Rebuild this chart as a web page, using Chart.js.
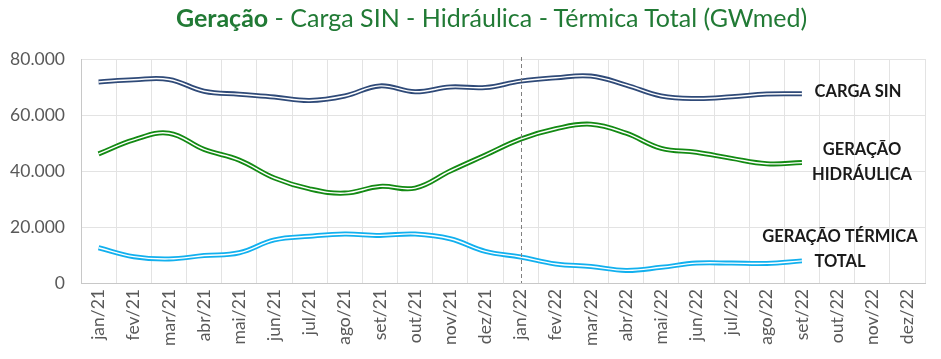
<!DOCTYPE html>
<html>
<head>
<meta charset="utf-8">
<script src="https://cdn.jsdelivr.net/npm/chart.js@4/dist/chart.umd.min.js"></script>
<style>
  html, body { margin: 0; padding: 0; background: #fff; }
  #wrap { position: relative; width: 941px; height: 359px; }
  #title { position: absolute; left: 21px; top: 2px; width: 941px; text-align: center;
           font-family: Lato, "Open Sans", sans-serif; font-size: 25px; color: #217a35; }
  #title b { font-weight: 700; }
  canvas { position: absolute; left: 0; top: 0; }
</style>
</head>
<body>
<div id="wrap">
  <canvas id="c" width="941" height="359"></canvas>
  <div id="title"><b>Geração</b> - Carga SIN - Hidráulica - Térmica Total (GWmed)</div>
</div>
<script>
const months = ["jan/21","fev/21","mar/21","abr/21","mai/21","jun/21","jul/21","ago/21","set/21","out/21","nov/21","dez/21",
                "jan/22","fev/22","mar/22","abr/22","mai/22","jun/22","jul/22","ago/22","set/22","out/22","nov/22","dez/22"];
const cargaSIN = [71800, 72600, 72700, 68500, 67400, 66400, 65200, 66800, 70400, 68300, 70000, 69800,
                  72100, 73300, 73900, 70700, 66800, 65900, 66500, 67500, 67600, null, null, null];
const geracaoHidraulica = [46100, 51100, 53500, 47700, 43900, 37500, 33600, 32100, 34500, 33900, 40000, 45700,
                           51400, 55100, 56700, 53500, 48100, 46700, 44500, 42600, 43000, null, null, null];
const geracaoTermica = [12600, 9400, 8600, 9800, 10800, 15400, 16700, 17500, 17000, 17500, 15800, 11300,
                        9300, 6800, 5900, 4500, 5600, 7100, 7100, 7000, 7900, null, null, null];
const seriesLabels = [["CARGA SIN"], ["GERAÇÃO", "HIDRÁULICA"], ["GERAÇÃO TÉRMICA", "TOTAL"]];
const yTicks = [0, 20000, 40000, 60000, 80000];
const markerMonth = "jan/22";

const colors = ["#2f4a78", "#138a13", "#12b0ee"];
const seriesData = [cargaSIN, geracaoHidraulica, geracaoTermica];

const datasets = [];
seriesData.forEach((d, i) => {
  datasets.push({ data: d, borderColor: colors[i], borderWidth: 5, pointRadius: 0, tension: 0.4, order: 2, fill: false });
  datasets.push({ data: d, borderColor: "#ffffff", borderWidth: 1.4, pointRadius: 0, tension: 0.4, order: 1, fill: false });
});

const labelPlugin = {
  id: "labels",
  afterDatasetsDraw(chart) {
    const ctx = chart.ctx;
    const x = chart.scales.x;
    ctx.save();
    const mx = x.getPixelForValue(months.indexOf(markerMonth));
    ctx.strokeStyle = "#808080";
    ctx.lineWidth = 1;
    ctx.setLineDash([4, 3]);
    ctx.beginPath();
    ctx.moveTo(Math.round(mx) + 0.5, chart.chartArea.top - 2);
    ctx.lineTo(Math.round(mx) + 0.5, chart.chartArea.bottom);
    ctx.stroke();
    ctx.setLineDash([]);
    ctx.fillStyle = "#1a1a1a";
    ctx.font = "bold 16.5px Lato, 'Open Sans', sans-serif";
    ctx.textAlign = "center";
    ctx.textBaseline = "middle";
    const centers = [[858, 92], [862, 150], [840, 237]];
    seriesLabels.forEach((lines, i) => {
      lines.forEach((t, j) => {
        ctx.fillText(t, centers[i][0], centers[i][1] + j * 25);
      });
    });
    ctx.restore();
  }
};

new Chart(document.getElementById("c"), {
  type: "line",
  data: { labels: months, datasets },
  options: {
    responsive: false,
    animation: false,
    layout: { padding: { left: 0, top: 59, right: 16, bottom: 0 } },
    plugins: { legend: { display: false }, tooltip: { enabled: false } },
    scales: {
      x: {
        offset: true,
        grid: { offset: true, color: "#e3e3e3", drawTicks: false },
        border: { color: "#c8c8c8" },
        ticks: { color: "#595959", font: { family: "Lato, 'Open Sans', sans-serif", size: 17.5 },
                 minRotation: 90, maxRotation: 90, autoSkip: false, padding: 6 },
        afterFit(s) { s.height = 359 - 283; }
      },
      y: {
        min: 0, max: 80000,
        afterBuildTicks(s) { s.ticks = yTicks.map(v => ({ value: v })); },
        grid: { color: "#e3e3e3", drawTicks: false },
        border: { color: "#c8c8c8" },
        ticks: { color: "#595959", font: { family: "Lato, 'Open Sans', sans-serif", size: 17.5 }, padding: 16,
                 callback: v => v === 0 ? "0" : v.toLocaleString("de-DE") },
        afterFit(s) { s.width = 81; }
      }
    }
  },
  plugins: [labelPlugin]
});
</script>
</body>
</html>
